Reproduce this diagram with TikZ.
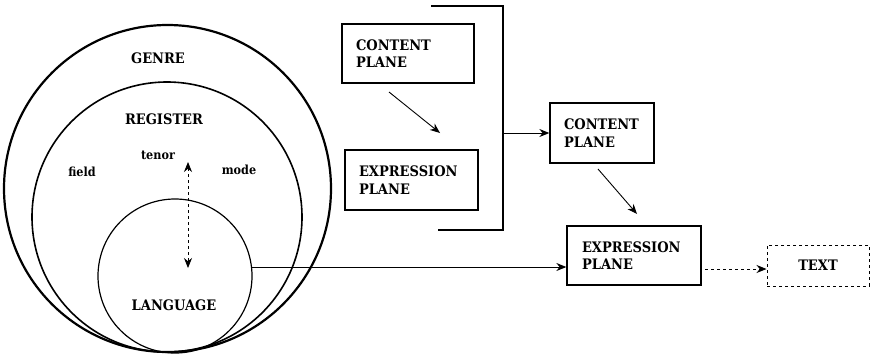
\documentclass[tikz,border=0pt]{standalone}
\usepackage{fontspec}
\setmainfont{DejaVu Serif Condensed}
\usetikzlibrary{arrows.meta}
\tikzset{
  lbl/.style={font=\bfseries\fontsize{14.5}{17}\selectfont, inner sep=0pt},
  small/.style={font=\bfseries\fontsize{12.5}{14}\selectfont, inner sep=0pt},
  plane/.style={draw, line width=1.3pt, rectangle, inner xsep=14pt, inner ysep=0pt, align=left,
    font=\bfseries\fontsize{14.5}{17.5}\selectfont},
  ring/.style={draw, circle, inner sep=0pt},
  arr/.style={-{Stealth[length=10pt,width=8pt]}, line width=0.9pt},
}
\begin{document}
\begin{tikzpicture}[x=1pt,y=-1pt]
\useasboundingbox (0,0) rectangle (870,354);
% circles
\node[ring, line width=2.2pt, minimum size=327pt] (genre) at (167.5,188.5) {};
\node[ring, line width=1.6pt, minimum size=270pt] (register) at (167,217) {};
\node[ring, line width=1.2pt, minimum size=154pt] (lang) at (175,276) {};
% labels
\node[lbl] (tgenre) at (158,58) {GENRE};
\node[lbl] (treg) at (164,119) {REGISTER};
\node[small] (ttenor) at (158,155) {tenor};
\node[small] (tfield) at (82,172) {field};
\node[small] (tmode) at (239,170) {mode};
\node[lbl] (tlang) at (174,305) {LANGUAGE};
% dashed double arrow
\coordinate (dtop) at (188,162);
\coordinate (dbot) at (188,268);
\draw[{Stealth[length=10pt,width=8pt]}-{Stealth[length=10pt,width=8pt]}, dashed, line width=0.9pt] (dtop) -- (dbot);
% boxes
\node[plane, text width=104pt, minimum height=59pt] (cp1) at (408,53.5) {CONTENT\\PLANE};
\node[plane, text width=105pt, minimum height=60pt] (ep1) at (411.5,180) {EXPRESSION\\PLANE};
\node[plane, text width=76pt, minimum height=60pt] (cp2) at (602,133) {CONTENT\\PLANE};
\node[plane, text width=104pt, minimum height=59pt, inner xsep=15pt] (ep2) at (634,255.5) {EXPRESSION\\PLANE};
\node[draw, dashed, line width=1pt, minimum width=102pt, minimum height=41pt, inner sep=0pt,
  font=\bfseries\fontsize{14.5}{17}\selectfont] (txt) at (818,265.5) {TEXT};
% bracket
\coordinate (bt) at (431,6);
\coordinate (bb) at (438,230);
\coordinate (bmid) at (503,133);
\draw[line width=1.6pt] (bt) -| (503,230) -- (bb);
\draw[arr] (bmid) -- (cp2.west |- bmid);
% arrows
\coordinate (a1s) at (389,92);
\coordinate (a1e) at (440,133);
\draw[arr] (a1s) -- (a1e);
\coordinate (a2s) at (598,169);
\coordinate (a2e) at (637,214);
\draw[arr] (a2s) -- (a2e);
\coordinate (lo) at (251.5,267);
\draw[arr] (lo) -- (ep2.west |- lo);
\coordinate (ds) at (705,269);
\draw[arr, dashed] (ds) -- (txt.west |- ds);
\end{tikzpicture}
\end{document}
